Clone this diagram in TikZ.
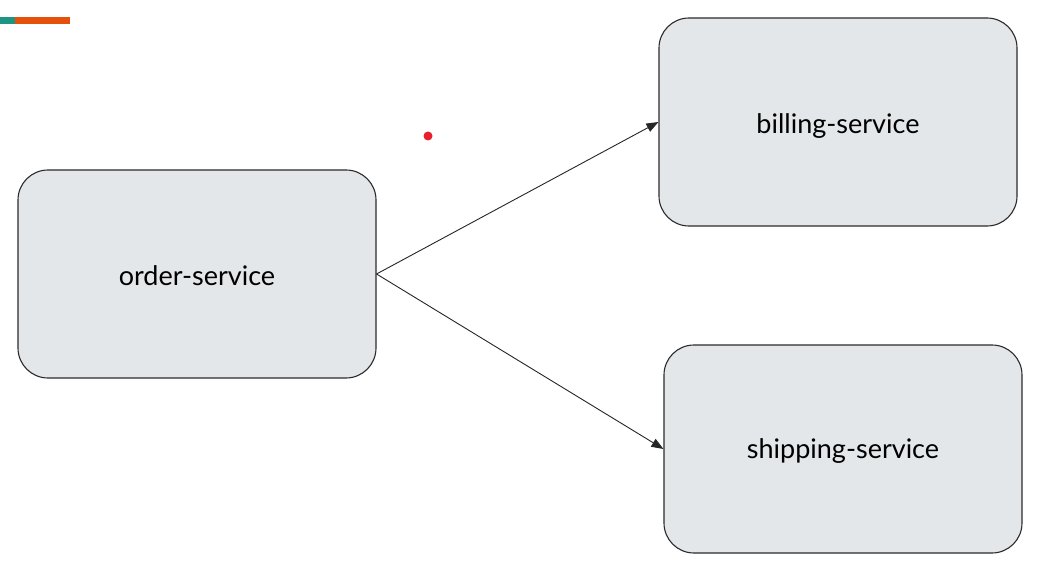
\documentclass[tikz,border=0pt]{standalone}
\usepackage{fontspec}
\setmainfont{Lato}
\usetikzlibrary{arrows.meta}
\definecolor{boxfill}{HTML}{E4E7EA}
\definecolor{boxline}{HTML}{2B2B2B}
\definecolor{tealbar}{HTML}{1E9484}
\definecolor{orangebar}{HTML}{E5500C}
\definecolor{reddot}{HTML}{E8202E}
\tikzset{
  svc/.style={draw=boxline, line width=1.1pt, fill=boxfill, rounded corners=30pt,
    minimum width=358pt, minimum height=208pt, inner sep=0pt},
  lbl/.style={font=\fontsize{27}{32}\selectfont, inner sep=0pt},
  conn/.style={draw=black!85, line width=0.9pt, -{Triangle[length=12pt,width=9pt]}}
}
\begin{document}
\begin{tikzpicture}[x=1pt,y=-1pt]
\useasboundingbox (0,0) rectangle (1039,567);
\fill[white] (0,0) rectangle (1039,567);
\fill[tealbar] (0,17) rectangle (15,24);
\fill[orangebar] (15,17) rectangle (70,24);
\fill[reddot] (428,136) circle (4.5pt);
\node[svc] (order) at (197,274) {};
\node[svc] (billing) at (838,122) {};
\node[svc] (shipping) at (843,449) {};
\node[lbl] (orderlbl) at (197,276) {order-service};
\node[lbl] (billinglbl) at (838,126) {billing-service};
\node[lbl] (shippinglbl) at (843,451) {shipping-service};
\coordinate (src) at (order.east);
\draw[conn] (src) -- (billing.west);
\draw[conn] (src) -- (shipping.west);
\end{tikzpicture}
\end{document}
